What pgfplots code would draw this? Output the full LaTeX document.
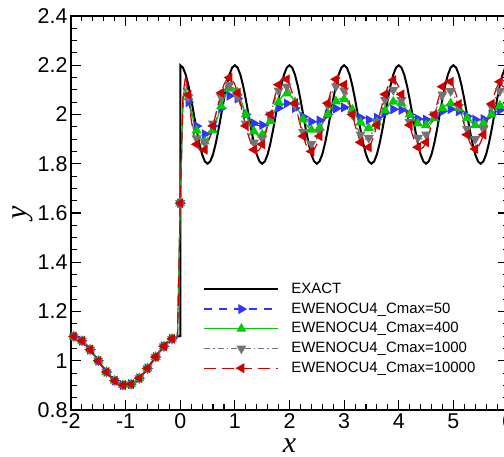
\documentclass[border=0pt]{standalone}
\usepackage{graphicx}
\usepackage{pgfplots}
\usepackage{pgfplotstable}
\pgfplotsset{compat=1.18}
\usepackage{fontspec}
\setmainfont{Liberation Sans}
\newfontfamily\seriffont{Liberation Serif}

\definecolor{cblue}{rgb}{0.2,0.2,1.0}
\definecolor{cgreen}{rgb}{0.0,0.8,0.0}
\definecolor{cgray}{rgb}{0.45,0.45,0.45}
\definecolor{cred}{rgb}{0.82,0.0,0.0}

\pgfplotstableread{
x y
-2 1.1
-1.95 1.0988
-1.9 1.0951
-1.85 1.0891
-1.8 1.0809
-1.75 1.0707
-1.7 1.0588
-1.65 1.0454
-1.6 1.0309
-1.55 1.0156
-1.5 1.0
-1.45 0.9844
-1.4 0.9691
-1.35 0.9546
-1.3 0.9412
-1.25 0.9293
-1.2 0.9191
-1.15 0.9109
-1.1 0.9049
-1.05 0.9012
-1.0 0.9
-0.95 0.9012
-0.9 0.9049
-0.85 0.9109
-0.8 0.9191
-0.75 0.9293
-0.7 0.9412
-0.65 0.9546
-0.6 0.9691
-0.55 0.9844
-0.5 1.0
-0.45 1.0156
-0.4 1.0309
-0.35 1.0454
-0.3 1.0588
-0.25 1.0707
-0.2 1.0809
-0.15 1.0891
-0.1 1.0951
-0.05 1.0988
0 1.1
0 2.2
0.05 2.1902
0.10 2.1618
0.15 2.1176
0.20 2.0618
0.25 2.0
0.30 1.9382
0.35 1.8824
0.40 1.8382
0.45 1.8098
0.50 1.8
0.55 1.8098
0.60 1.8382
0.65 1.8824
0.70 1.9382
0.75 2.0
0.80 2.0618
0.85 2.1176
0.90 2.1618
0.95 2.1902
1.00 2.2
1.05 2.1902
1.10 2.1618
1.15 2.1176
1.20 2.0618
1.25 2.0
1.30 1.9382
1.35 1.8824
1.40 1.8382
1.45 1.8098
1.50 1.8
1.55 1.8098
1.60 1.8382
1.65 1.8824
1.70 1.9382
1.75 2.0
1.80 2.0618
1.85 2.1176
1.90 2.1618
1.95 2.1902
2.00 2.2
2.05 2.1902
2.10 2.1618
2.15 2.1176
2.20 2.0618
2.25 2.0
2.30 1.9382
2.35 1.8824
2.40 1.8382
2.45 1.8098
2.50 1.8
2.55 1.8098
2.60 1.8382
2.65 1.8824
2.70 1.9382
2.75 2.0
2.80 2.0618
2.85 2.1176
2.90 2.1618
2.95 2.1902
3.00 2.2
3.05 2.1902
3.10 2.1618
3.15 2.1176
3.20 2.0618
3.25 2.0
3.30 1.9382
3.35 1.8824
3.40 1.8382
3.45 1.8098
3.50 1.8
3.55 1.8098
3.60 1.8382
3.65 1.8824
3.70 1.9382
3.75 2.0
3.80 2.0618
3.85 2.1176
3.90 2.1618
3.95 2.1902
4.00 2.2
4.05 2.1902
4.10 2.1618
4.15 2.1176
4.20 2.0618
4.25 2.0
4.30 1.9382
4.35 1.8824
4.40 1.8382
4.45 1.8098
4.50 1.8
4.55 1.8098
4.60 1.8382
4.65 1.8824
4.70 1.9382
4.75 2.0
4.80 2.0618
4.85 2.1176
4.90 2.1618
4.95 2.1902
5.00 2.2
5.05 2.1902
5.10 2.1618
5.15 2.1176
5.20 2.0618
5.25 2.0
5.30 1.9382
5.35 1.8824
5.40 1.8382
5.45 1.8098
5.50 1.8
5.55 1.8098
5.60 1.8382
5.65 1.8824
5.70 1.9382
5.75 2.0
5.80 2.0618
5.85 2.1176
5.90 2.1618
5.95 2.1902
6.00 2.2
}\exact

\pgfplotstableread{
x b g k r
-2 1.1 1.1 1.1 1.1
-1.95 1.0988 1.0988 1.0988 1.0988
-1.9 1.0951 1.0951 1.0951 1.0951
-1.85 1.0891 1.0891 1.0891 1.0891
-1.8 1.0809 1.0809 1.0809 1.0809
-1.75 1.0707 1.0707 1.0707 1.0707
-1.7 1.0588 1.0588 1.0588 1.0588
-1.65 1.0454 1.0454 1.0454 1.0454
-1.6 1.0309 1.0309 1.0309 1.0309
-1.55 1.0156 1.0156 1.0156 1.0156
-1.5 1.0 1.0 1.0 1.0
-1.45 0.9844 0.9844 0.9844 0.9844
-1.4 0.9691 0.9691 0.9691 0.9691
-1.35 0.9546 0.9546 0.9546 0.9546
-1.3 0.9412 0.9412 0.9412 0.9412
-1.25 0.9293 0.9293 0.9293 0.9293
-1.2 0.9191 0.9191 0.9191 0.9191
-1.15 0.9109 0.9109 0.9109 0.9109
-1.1 0.9049 0.9049 0.9049 0.9049
-1.05 0.9012 0.9012 0.9012 0.9012
-1.0 0.9 0.9 0.9 0.9
-0.95 0.9012 0.9012 0.9012 0.9012
-0.9 0.9049 0.9049 0.9049 0.9049
-0.85 0.9109 0.9109 0.9109 0.9109
-0.8 0.9191 0.9191 0.9191 0.9191
-0.75 0.9293 0.9293 0.9293 0.9293
-0.7 0.9412 0.9412 0.9412 0.9412
-0.65 0.9546 0.9546 0.9546 0.9546
-0.6 0.9691 0.9691 0.9691 0.9691
-0.55 0.9844 0.9844 0.9844 0.9844
-0.5 1.0 1.0 1.0 1.0
-0.45 1.0156 1.0156 1.0156 1.0156
-0.4 1.0309 1.0309 1.0309 1.0309
-0.35 1.0454 1.0454 1.0454 1.0454
-0.3 1.0588 1.0588 1.0588 1.0588
-0.25 1.0707 1.0707 1.0707 1.0707
-0.2 1.0809 1.0809 1.0809 1.0809
-0.15 1.0891 1.0891 1.0891 1.0891
-0.1 1.0951 1.0951 1.0951 1.0951
-0.05 1.0988 1.0988 1.0988 1.0988
0.00 1.64 1.64 1.64 1.64
0.05 2.04 2.06 2.07 2.08
0.10 2.08 2.10 2.13 2.16
0.15 2.05 2.07 2.07 2.08
0.20 2.01 2.02 1.99 1.98
0.25 1.975 1.966 1.929 1.91
0.30 1.953 1.935 1.903 1.879
0.35 1.935 1.911 1.886 1.857
0.40 1.924 1.895 1.880 1.850
0.45 1.920 1.890 1.886 1.857
0.50 1.924 1.895 1.903 1.879
0.55 1.935 1.911 1.929 1.912
0.60 1.953 1.935 1.963 1.954
0.65 1.975 1.966 2.000 2.000
0.70 2.000 2.000 2.037 2.046
0.75 2.025 2.034 2.071 2.088
0.80 2.047 2.065 2.097 2.121
0.85 2.065 2.089 2.114 2.143
0.90 2.076 2.105 2.120 2.150
0.95 2.080 2.110 2.114 2.143
1.00 2.076 2.105 2.097 2.121
1.05 2.065 2.089 2.071 2.088
1.10 2.047 2.065 2.037 2.046
1.15 2.025 2.034 2.000 2.000
1.20 2.000 2.000 1.963 1.954
1.25 1.986 1.974 1.929 1.912
1.30 1.974 1.950 1.903 1.879
1.35 1.964 1.931 1.886 1.857
1.40 1.957 1.919 1.880 1.850
1.45 1.955 1.915 1.886 1.857
1.50 1.957 1.919 1.903 1.879
1.55 1.964 1.931 1.929 1.912
1.60 1.974 1.950 1.963 1.954
1.65 1.986 1.974 2.000 2.000
1.70 2.000 2.000 2.037 2.046
1.75 2.014 2.026 2.071 2.088
1.80 2.026 2.050 2.097 2.121
1.85 2.036 2.069 2.114 2.143
1.90 2.043 2.081 2.120 2.150
1.95 2.045 2.085 2.114 2.143
2.00 2.043 2.081 2.097 2.121
2.05 2.036 2.069 2.071 2.088
2.10 2.026 2.050 2.037 2.046
2.15 2.014 2.026 2.000 2.000
2.20 2.000 2.000 1.963 1.954
2.25 1.991 1.980 1.929 1.912
2.30 1.982 1.962 1.903 1.879
2.35 1.976 1.947 1.886 1.857
2.40 1.971 1.938 1.880 1.850
2.45 1.970 1.935 1.886 1.857
2.50 1.971 1.938 1.903 1.879
2.55 1.976 1.947 1.929 1.912
2.60 1.982 1.962 1.963 1.954
2.65 1.991 1.980 2.000 2.000
2.70 2.000 2.000 2.037 2.046
2.75 2.009 2.020 2.071 2.088
2.80 2.018 2.038 2.097 2.121
2.85 2.024 2.053 2.114 2.143
2.90 2.029 2.062 2.120 2.150
2.95 2.030 2.065 2.114 2.143
3.00 2.029 2.062 2.097 2.121
3.05 2.024 2.053 2.071 2.088
3.10 2.018 2.038 2.037 2.046
3.15 2.009 2.020 2.000 2.000
3.20 2.000 2.000 1.969 1.957
3.25 1.993 1.983 1.941 1.918
3.30 1.987 1.968 1.919 1.887
3.35 1.982 1.955 1.905 1.867
3.40 1.979 1.948 1.900 1.860
3.45 1.978 1.945 1.905 1.867
3.50 1.979 1.948 1.919 1.887
3.55 1.982 1.955 1.941 1.918
3.60 1.987 1.968 1.969 1.957
3.65 1.993 1.983 2.000 2.000
3.70 2.000 2.000 2.031 2.043
3.75 2.007 2.017 2.059 2.082
3.80 2.013 2.032 2.081 2.113
3.85 2.018 2.045 2.095 2.133
3.90 2.021 2.052 2.100 2.140
3.95 2.022 2.055 2.095 2.133
4.00 2.021 2.052 2.081 2.113
4.05 2.018 2.045 2.059 2.082
4.10 2.013 2.032 2.031 2.043
4.15 2.007 2.017 2.000 2.000
4.20 2.000 2.000 1.969 1.957
4.25 1.993 1.986 1.941 1.918
4.30 1.987 1.974 1.919 1.887
4.35 1.982 1.964 1.905 1.867
4.40 1.979 1.957 1.900 1.860
4.45 1.978 1.955 1.905 1.867
4.50 1.979 1.957 1.919 1.887
4.55 1.982 1.964 1.941 1.918
4.60 1.987 1.974 1.969 1.957
4.65 1.993 1.986 2.000 2.000
4.70 2.000 2.000 2.031 2.043
4.75 2.007 2.014 2.059 2.082
4.80 2.013 2.026 2.081 2.113
4.85 2.018 2.036 2.095 2.133
4.90 2.021 2.043 2.100 2.140
4.95 2.022 2.045 2.095 2.133
5.00 2.021 2.043 2.081 2.113
5.05 2.018 2.036 2.059 2.082
5.10 2.013 2.026 2.031 2.043
5.15 2.007 2.014 2.000 2.000
5.20 2.000 2.000 1.969 1.957
5.25 1.993 1.986 1.941 1.918
5.30 1.987 1.974 1.919 1.887
5.35 1.982 1.964 1.905 1.867
5.40 1.979 1.957 1.900 1.860
5.45 1.978 1.955 1.905 1.867
5.50 1.979 1.957 1.919 1.887
5.55 1.982 1.964 1.941 1.918
5.60 1.987 1.974 1.969 1.957
5.65 1.993 1.986 2.000 2.000
5.70 2.000 2.000 2.031 2.043
5.75 2.007 2.014 2.059 2.082
5.80 2.013 2.026 2.081 2.113
5.85 2.018 2.036 2.095 2.133
5.90 2.021 2.043 2.100 2.140
5.95 2.022 2.045 2.095 2.133
6.00 2.021 2.043 2.081 2.113
}\num

\begin{document}
\begin{tikzpicture}
\begin{axis}[
  name=ax,
  scale only axis,
  width=437bp, height=394bp,
  xmin=-2, xmax=6, ymin=0.8, ymax=2.4,
  xtick={-2,-1,0,1,2,3,4,5,6},
  ytick={0.8,1,1.2,1.4,1.6,1.8,2,2.2,2.4},
  minor x tick num=4, minor y tick num=3,
  tick align=inside,
  major tick length=10bp, minor tick length=5.5bp,
  every tick/.style={black, line width=1.1bp},
  axis line style={line width=1.8bp},
  /pgf/number format/assume math mode=true,
  ticklabel style={font=\fontsize{21.5}{24}\selectfont},
  xlabel={\seriffont\itshape x},
  ylabel={\rotatebox{90}{\seriffont\itshape y}},
  every axis x label/.style={font=\fontsize{30}{30}\selectfont, at={(axis description cs:0.5,-0.091)}, anchor=center},
  every axis y label/.style={font=\fontsize{30}{30}\selectfont, at={(axis description cs:-0.11,0.5)}, anchor=center},
  legend cell align=left,
  legend image code/.code={
    \draw[mark repeat=2, mark phase=2, #1] plot coordinates {(0bp,0bp) (37bp,0bp) (74bp,0bp)};
    \path (86bp,0bp);
  },
  legend style={at={(axis cs:0.42,1.319)}, anchor=north west, draw=none, fill=none,
    font=\fontsize{15}{17}\selectfont, inner sep=0pt, row sep=5.7bp,
    nodes={inner sep=0pt, text height=11bp, text depth=3bp}},
  mark size=4.6bp,
]
\addplot[black, line width=2bp] table[x=x, y=y] {\exact};
\addlegendentry{EXACT}
\addplot[cblue, line width=1.2bp, dash pattern=on 8bp off 7bp, mark=triangle*, mark repeat=3, mark phase=2, mark options={solid, rotate=-90, fill=cblue}] table[x=x, y=b] {\num};
\addlegendentry{EWENOCU4\_Cmax=50}
\addplot[cgreen, line width=1.2bp, mark=triangle*, mark repeat=3, mark phase=2, mark options={solid, fill=cgreen}] table[x=x, y=g] {\num};
\addlegendentry{EWENOCU4\_Cmax=400}
\addplot[cgray, line width=1.2bp, dash pattern=on 6bp off 3bp on 1.5bp off 3bp, mark=triangle*, mark repeat=3, mark phase=2, mark options={solid, rotate=180, fill=cgray}] table[x=x, y=k] {\num};
\addlegendentry{EWENOCU4\_Cmax=1000}
\addplot[cred, line width=1.2bp, dash pattern=on 12bp off 6bp, mark=triangle*, mark repeat=3, mark phase=2, mark options={solid, rotate=90, fill=cred}] table[x=x, y=r] {\num};
\addlegendentry{EWENOCU4\_Cmax=10000}
\end{axis}
\pgfresetboundingbox
\path[use as bounding box] ([xshift=-71bp,yshift=-47bp]ax.south west) rectangle ([xshift=433bp,yshift=16bp]ax.north west);
\end{tikzpicture}
\end{document}
